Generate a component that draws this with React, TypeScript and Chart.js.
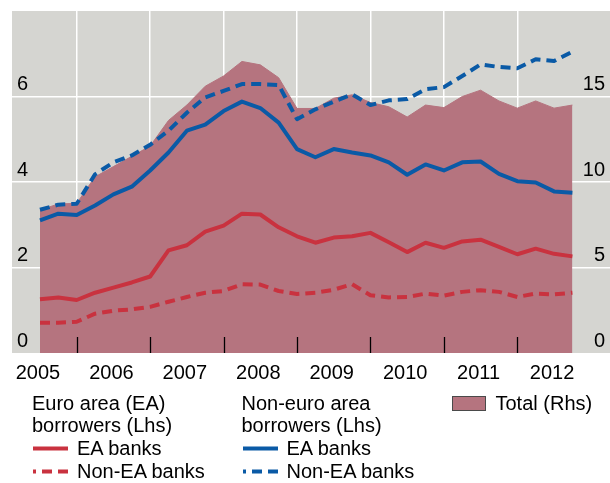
import React, { useEffect, useRef } from "react";
import { Chart, registerables } from "chart.js";

Chart.register(...registerables);

const FONT_FAMILY = '"Liberation Sans", Arial, Helvetica, sans-serif';
const RED = "#c9323f";
const BLUE = "#0a5aa6";
const PINK = "#b5747f";
const PLOT_BG = "#d5d5d1";

// Quarter-end positions (decimal years): 2005 Q2 … 2012 Q3
const quarterPositions = [
  2005.5, 2005.75,
  2006.0, 2006.25, 2006.5, 2006.75,
  2007.0, 2007.25, 2007.5, 2007.75,
  2008.0, 2008.25, 2008.5, 2008.75,
  2009.0, 2009.25, 2009.5, 2009.75,
  2010.0, 2010.25, 2010.5, 2010.75,
  2011.0, 2011.25, 2011.5, 2011.75,
  2012.0, 2012.25, 2012.5, 2012.75,
];

// Euro area borrowers (Lhs)
const eaBorrowersEaBanks = [
  1.26, 1.30, 1.24, 1.41, 1.53, 1.65, 1.79, 2.40, 2.52, 2.84,
  2.98, 3.26, 3.24, 2.94, 2.73, 2.58, 2.70, 2.73, 2.81, 2.59,
  2.36, 2.58, 2.46, 2.61, 2.65, 2.48, 2.31, 2.44, 2.32, 2.26,
];
const eaBorrowersNonEaBanks = [
  0.71, 0.71, 0.73, 0.92, 0.99, 1.02, 1.08, 1.20, 1.31, 1.41,
  1.45, 1.61, 1.60, 1.45, 1.38, 1.41, 1.48, 1.61, 1.35, 1.30,
  1.31, 1.39, 1.34, 1.43, 1.47, 1.43, 1.31, 1.39, 1.37, 1.41,
];

// Non-euro area borrowers (Lhs)
const nonEaBorrowersEaBanks = [
  3.10, 3.26, 3.23, 3.45, 3.71, 3.89, 4.27, 4.69, 5.20, 5.34,
  5.66, 5.88, 5.73, 5.39, 4.77, 4.58, 4.77, 4.69, 4.62, 4.46,
  4.17, 4.41, 4.27, 4.46, 4.48, 4.19, 4.02, 3.99, 3.78, 3.75,
];
const nonEaBorrowersNonEaBanks = [
  3.35, 3.47, 3.49, 4.18, 4.46, 4.62, 4.87, 5.20, 5.62, 5.98,
  6.13, 6.29, 6.29, 6.27, 5.47, 5.70, 5.88, 6.05, 5.80, 5.91,
  5.94, 6.17, 6.22, 6.48, 6.75, 6.69, 6.66, 6.87, 6.83, 7.05,
];

// Total (Rhs)
const totalRhs = [
  8.35, 8.72, 8.75, 10.3, 10.9, 11.5, 12.1, 13.6, 14.5, 15.6,
  16.2, 17.05, 16.85, 16.1, 14.3, 14.3, 14.9, 15.1, 14.65, 14.4,
  13.8, 14.5, 14.35, 15.0, 15.37, 14.74, 14.32, 14.74, 14.32, 14.5,
];

const yearLabelPositions = [2005.5, 2006.5, 2007.5, 2008.5, 2009.5, 2010.5, 2011.5, 2012.5];
const yearLabels = ["2005", "2006", "2007", "2008", "2009", "2010", "2011", "2012"];
const yearBoundaries = [2006, 2007, 2008, 2009, 2010, 2011, 2012];
const leftTickLabels = [0, 2, 4, 6];
const rightTickLabels = [0, 5, 10, 15];

const legendColumns = [
  { title: ["Euro area (EA)", "borrowers (Lhs)"], color: RED, items: ["EA banks", "Non-EA banks"] },
  { title: ["Non-euro area", "borrowers (Lhs)"], color: BLUE, items: ["EA banks", "Non-EA banks"] },
];
const totalLegendLabel = "Total (Rhs)";

const bgPlugin = {
  id: "plotBackground",
  beforeDraw(chart: any) {
    const { ctx, chartArea } = chart;
    ctx.save();
    ctx.fillStyle = PLOT_BG;
    ctx.fillRect(chartArea.left, chartArea.top, chartArea.right - chartArea.left, chartArea.bottom - chartArea.top);
    ctx.restore();
  },
};

const tickMarkPlugin = {
  id: "innerTickMarks",
  afterDatasetsDraw(chart: any) {
    const { ctx, chartArea, scales } = chart;
    ctx.save();
    ctx.strokeStyle = "#000";
    ctx.lineWidth = 1.3;
    yearBoundaries.forEach((yr) => {
      const x = Math.round(scales.x.getPixelForValue(yr)) + 0.5;
      ctx.beginPath();
      ctx.moveTo(x, chartArea.bottom - 16);
      ctx.lineTo(x, chartArea.bottom);
      ctx.stroke();
    });
    ctx.restore();
  },
};

function LegendLine({ color, dashed }: { color: string; dashed: boolean }) {
  return (
    <svg width={36} height={23} style={{ position: "absolute", left: 0, top: 0 }}>
      <line
        x1={0}
        x2={35}
        y1={11.5}
        y2={11.5}
        stroke={color}
        strokeWidth={4}
        strokeDasharray={dashed ? "10 6" : undefined}
        strokeDashoffset={dashed ? 7 : undefined}
      />
    </svg>
  );
}

export default function App() {
  const canvasRef = useRef<HTMLCanvasElement>(null);

  useEffect(() => {
    const canvas = canvasRef.current;
    if (!canvas) return;
    const toPoints = (vals: number[]) => vals.map((v, i) => ({ x: quarterPositions[i], y: v }));
    const lineBase = {
      pointRadius: 0,
      borderWidth: 4,
      tension: 0,
      fill: false,
      borderJoinStyle: "round" as const,
      borderCapStyle: "butt" as const,
      yAxisID: "y",
    };
    const chart = new Chart(canvas, {
      type: "line",
      data: {
        datasets: [
          { ...lineBase, label: "EA borrowers: EA banks", data: toPoints(eaBorrowersEaBanks), borderColor: RED, order: 1 },
          { ...lineBase, label: "EA borrowers: Non-EA banks", data: toPoints(eaBorrowersNonEaBanks), borderColor: RED, borderDash: [10, 6], order: 2 },
          { ...lineBase, label: "Non-EA borrowers: EA banks", data: toPoints(nonEaBorrowersEaBanks), borderColor: BLUE, order: 1 },
          { ...lineBase, label: "Non-EA borrowers: Non-EA banks", data: toPoints(nonEaBorrowersNonEaBanks), borderColor: BLUE, borderDash: [10, 6], order: 2 },
          {
            label: totalLegendLabel,
            data: toPoints(totalRhs),
            yAxisID: "y2",
            fill: "origin",
            backgroundColor: PINK,
            borderColor: PINK,
            borderWidth: 1,
            pointRadius: 0,
            tension: 0,
            order: 10,
          },
        ],
      },
      options: {
        responsive: false,
        animation: false,
        devicePixelRatio: 1,
        layout: { padding: { left: 12, top: 11, right: 0, bottom: 100 } },
        plugins: { legend: { display: false }, tooltip: { enabled: false } },
        scales: {
          x: {
            type: "linear",
            min: 2005.119,
            max: 2013.262,
            afterBuildTicks: (scale: any) => {
              scale.ticks = yearLabelPositions.map((value) => ({ value }));
            },
            afterFit: (scale: any) => {
              scale.height = 30;
              scale.paddingLeft = 0;
              scale.paddingRight = 0;
            },
            border: { display: false },
            grid: {
              offset: true,
              drawTicks: false,
              lineWidth: 1.5,
              color: (ctx: any) => (ctx.type === "tick" ? "#ffffff" : "rgba(0,0,0,0)"),
            },
            ticks: {
              autoSkip: false,
              maxRotation: 0,
              padding: 8,
              labelOffset: -2,
              color: "#000",
              font: { family: FONT_FAMILY, size: 20 },
              callback: (_v: any, i: number) => yearLabels[i],
            },
          },
          y: {
            type: "linear",
            position: "left",
            min: 0,
            max: 8,
            afterFit: (scale: any) => {
              scale.width = 0;
              scale.paddingTop = 0;
              scale.paddingBottom = 0;
            },
            border: { display: false },
            grid: {
              drawTicks: false,
              lineWidth: 1.5,
              color: (ctx: any) =>
                ctx.type === "tick" && ctx.tick && ctx.tick.value > 0 && ctx.tick.value < 8 ? "#ffffff" : "rgba(0,0,0,0)",
            },
            ticks: {
              stepSize: 2,
              mirror: true,
              padding: 5,
              labelOffset: -12,
              color: "#000",
              font: { family: FONT_FAMILY, size: 20 },
              callback: (v: any) => (leftTickLabels.includes(Number(v)) ? String(v) : ""),
            },
          },
          y2: {
            type: "linear",
            position: "right",
            min: 0,
            max: 20,
            afterFit: (scale: any) => {
              scale.width = 0;
              scale.paddingTop = 0;
              scale.paddingBottom = 0;
            },
            border: { display: false },
            grid: { display: false, drawTicks: false },
            ticks: {
              stepSize: 5,
              mirror: true,
              padding: -5,
              labelOffset: -12,
              color: "#000",
              font: { family: FONT_FAMILY, size: 20 },
              callback: (v: any) => (rightTickLabels.includes(Number(v)) ? String(v) : ""),
            },
          },
        },
      },
      plugins: [bgPlugin, tickMarkPlugin],
    });
    return () => chart.destroy();
  }, []);

  const lineTops = [392, 414, 437, 460];
  const colLeft = [32, 241.5];

  return (
    <div
      style={{
        position: "fixed",
        left: 0,
        top: 0,
        width: 610,
        height: 483,
        background: "#fff",
        fontFamily: FONT_FAMILY,
        fontSize: 20,
        color: "#000",
        lineHeight: "23px",
      }}
    >
      <canvas ref={canvasRef} width={610} height={483} style={{ display: "block", width: 610, height: 483 }} />
      {legendColumns.map((col, ci) => (
        <React.Fragment key={ci}>
          {col.title.map((t, ti) => (
            <div key={"t" + ti} style={{ position: "absolute", left: colLeft[ci], top: lineTops[ti], whiteSpace: "nowrap" }}>
              {t}
            </div>
          ))}
          {col.items.map((item, ii) => (
            <div
              key={"i" + ii}
              style={{ position: "absolute", left: colLeft[ci] + 1, top: lineTops[2 + ii], height: 23, whiteSpace: "nowrap" }}
            >
              <LegendLine color={col.color} dashed={ii === 1} />
              <span style={{ position: "absolute", left: 44, top: 0 }}>{item}</span>
            </div>
          ))}
        </React.Fragment>
      ))}
      <div
        style={{
          position: "absolute",
          left: 452,
          top: 395.5,
          width: 32,
          height: 13,
          background: PINK,
          border: "1px solid #4a4a4a",
        }}
      />
      <div style={{ position: "absolute", left: 495.5, top: lineTops[0], whiteSpace: "nowrap" }}>{totalLegendLabel}</div>
    </div>
  );
}
